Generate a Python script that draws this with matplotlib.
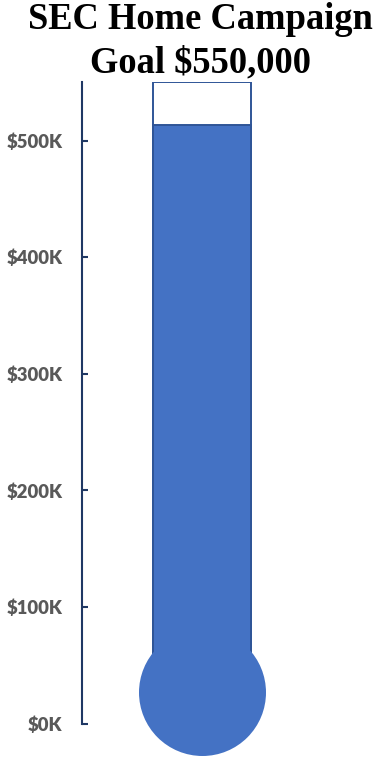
import matplotlib
matplotlib.use("Agg")
import matplotlib.pyplot as plt
from matplotlib.ticker import FuncFormatter

# data
title_lines = ["SEC Home Campaign", "Goal $550,000"]
goal = 550000
raised = 513000
tick_values = [0, 100000, 200000, 300000, 400000, 500000]

fill_color = "#4472C4"
edge_color = "#2F5597"
axis_color = "#1F3864"
label_color = "#595959"

fig = plt.figure(figsize=(3.8, 7.68), dpi=100)
ax = fig.add_axes([82 / 380, 44.3 / 768, 298 / 380, 641.4 / 768])

bar_x = 0.403
bar_w = 0.327
ax.bar(bar_x, goal, width=bar_w, color="white", edgecolor=edge_color,
       linewidth=1.4, zorder=2)
ax.bar(bar_x, raised, width=bar_w, color=fill_color, edgecolor=edge_color,
       linewidth=1.4, zorder=3)

# bulb at the bottom
bulb_y = 27500
bulb_r_px = 63.5
ax.scatter([bar_x], [bulb_y], s=(2 * bulb_r_px * 72 / 100) ** 2,
           color=fill_color, linewidths=0, zorder=4, clip_on=False)

ax.set_xlim(0, 1)
ax.set_ylim(0, goal)
ax.set_yticks(tick_values)
ax.yaxis.set_major_formatter(FuncFormatter(lambda v, p: f"${v / 1000:.0f}K"))
ax.set_xticks([])

for side in ["top", "right", "bottom"]:
    ax.spines[side].set_visible(False)
ax.spines["left"].set_color(axis_color)
ax.spines["left"].set_linewidth(1.5)
ax.tick_params(axis="y", direction="in", length=4.5, width=1.5,
               color=axis_color, pad=14, labelcolor=label_color)
for lbl in ax.get_yticklabels():
    lbl.set_fontfamily("Lato")
    lbl.set_fontweight("heavy")
    lbl.set_fontsize(13.3)

fig.text(200 / 380, 1 - 29 / 768, title_lines[0], ha="center", va="baseline",
         fontsize=26.3, fontweight="bold", family="Liberation Serif")
fig.text(200 / 380, 1 - 72 / 768, title_lines[1], ha="center", va="baseline",
         fontsize=26.3, fontweight="bold", family="Liberation Serif")

fig.savefig("out.png", dpi=100)
